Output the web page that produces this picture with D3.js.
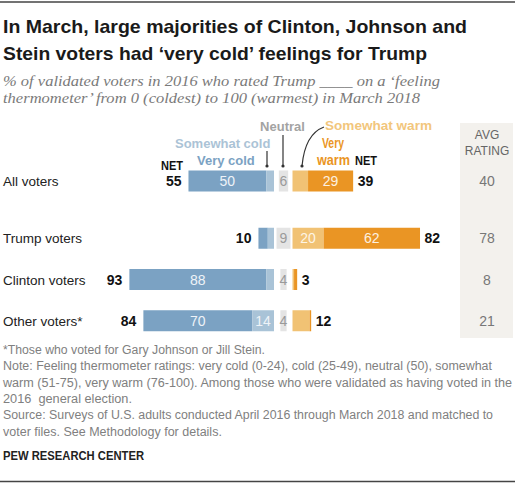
<!DOCTYPE html>
<html><head><meta charset="utf-8">
<script src="https://cdn.jsdelivr.net/npm/d3@7"></script>
<style>body{margin:0;background:#fff}svg{display:block}</style>
</head><body>
<script>
const categories = ["All voters","Trump voters","Clinton voters","Other voters*"];
const veryCold = [50,6,88,70];
const cold = [5,4,5,14];
const neutral = [6,9,4,4];
const somewhatWarm = [10,20,1,11];
const veryWarm = [29,62,2,1];
const netCold = [55,10,93,84];
const netWarm = [39,82,3,12];
const avgRating = [40,78,8,21];

const titleLines = ["In March, large majorities of Clinton, Johnson and","Stein voters had ‘very cold’ feelings for Trump"];
const subtitleLines = ["% of validated voters in 2016 who rated Trump ____ on a ‘feeling","thermometer’ from 0 (coldest) to 100 (warmest) in March 2018"];
const noteLines = ["*Those who voted for Gary Johnson or Jill Stein.",
"Note: Feeling thermometer ratings: very cold (0-24), cold (25-49), neutral (50), somewhat",
"warm (51-75), very warm (76-100). Among those who were validated as having voted in the",
"2016  general election.",
"Source: Surveys of U.S. adults conducted April 2016 through March 2018 and matched to",
"voter files. See Methodology for details."];

const C = {vc:"#7ba2c3", c:"#a9c3d7", n:"#e4e4e4", sw:"#f1c274", vw:"#ea9524"};
const W=520,H=484;
const svg=d3.select("body").append("svg").attr("width",W).attr("height",H);
const sans="'Liberation Sans', Arial, sans-serif";

function fitText(sel,w){sel.each(function(){const n=this.getComputedTextLength();if(Math.abs(n-w)>1){d3.select(this).attr("textLength",w).attr("lengthAdjust","spacingAndGlyphs");}});}

// rules
svg.append("line").attr("x1",0).attr("x2",515).attr("y1",2).attr("y2",2).attr("stroke","#444").attr("stroke-width",1.5);
svg.append("line").attr("x1",0).attr("x2",515).attr("y1",481.5).attr("y2",481.5).attr("stroke","#444").attr("stroke-width",1.5);

// title
const tW=[464,424];
titleLines.forEach((t,i)=>{svg.append("text").attr("x",3).attr("y",33+i*26.5).attr("font-family",sans).attr("font-weight","bold").attr("font-size",19).attr("fill","#1a1a1a").text(t).call(fitText,tW[i]);});
const sW=[437,417];
subtitleLines.forEach((t,i)=>{svg.append("text").attr("x",3).attr("y",86+i*17).attr("font-family","'Liberation Serif', Georgia, serif").attr("font-style","italic").attr("font-size",15).attr("fill","#7a7a7a").text(t).call(fitText,sW[i]);});

// avg column
svg.append("rect").attr("x",460).attr("y",123).attr("width",53).attr("height",215).attr("fill","#f3f1ed");
svg.append("text").attr("x",487).attr("y",139).attr("text-anchor","middle").attr("font-family",sans).attr("font-size",12).attr("fill","#666").text("AVG");
svg.append("text").attr("x",487).attr("y",155).attr("text-anchor","middle").attr("font-family",sans).attr("font-size",12).attr("fill","#666").text("RATING");

// scales
const w=d3.scaleLinear().domain([0,100]).range([0,155.5]);
const coldEnd=274, warmStart=292.5, neutralMid=283.5;
const yP=d3.scalePoint().domain(categories).range([181,181+41.25*3]);
const y=(c,i)=>yP(c)+(i>0?16:0);
const bh=21;

const rows=categories.map((c,i)=>({c,i,cy:y(c,i)}));
const g=svg.append("g");
rows.forEach(r=>{
  const i=r.i, cy=r.cy;
  const segs=[
    {x:coldEnd-w(cold[i])-w(veryCold[i]),v:veryCold[i],col:C.vc,lab:"#eef3f8"},
    {x:coldEnd-w(cold[i]),v:cold[i],col:C.c,lab:"#eef3f8"},
    {x:neutralMid-w(neutral[i])/2,v:neutral[i],col:C.n,lab:"#9a9a9a",always:true},
    {x:warmStart,v:somewhatWarm[i],col:C.sw,lab:"#fdf5e6"},
    {x:warmStart+w(somewhatWarm[i]),v:veryWarm[i],col:C.vw,lab:"#fdf1e0"}
  ];
  segs.forEach(s=>{
    g.append("rect").attr("x",s.x).attr("y",cy-bh/2).attr("width",w(s.v)).attr("height",bh).attr("fill",s.col);
    if(s.always||s.v>=12){
      g.append("text").attr("x",s.x+w(s.v)/2).attr("y",cy+5).attr("text-anchor","middle").attr("font-family",sans).attr("font-size",14).attr("fill",s.lab).text(s.v);
    }
  });
  g.append("text").attr("x",3).attr("y",cy+5).attr("font-family",sans).attr("font-size",13.5).attr("fill","#222").text(r.c);
  g.append("text").attr("x",segs[0].x-7).attr("y",cy+5).attr("text-anchor","end").attr("font-family",sans).attr("font-weight","bold").attr("font-size",14).attr("fill","#111").text(netCold[i]);
  g.append("text").attr("x",warmStart+w(somewhatWarm[i]+veryWarm[i])+4.5).attr("y",cy+5).attr("font-family",sans).attr("font-weight","bold").attr("font-size",14).attr("fill","#111").text(netWarm[i]);
  g.append("text").attr("x",487).attr("y",cy+5).attr("text-anchor","middle").attr("font-family",sans).attr("font-size",14).attr("fill","#777").text(avgRating[i]);
});

// legend labels
const lg=svg.append("g").attr("font-family",sans).attr("font-weight","bold").attr("font-size",13);
lg.append("text").attr("x",neutralMid-1).attr("y",131).attr("text-anchor","middle").attr("fill","#a3a3a3").text("Neutral").call(fitText,45);
lg.append("text").attr("x",325).attr("y",130).attr("fill","#f2c67c").text("Somewhat warm").call(fitText,107);
lg.append("text").attr("x",175).attr("y",148).attr("fill","#abc3d6").text("Somewhat cold").call(fitText,96);
lg.append("text").attr("x",197).attr("y",165).attr("fill","#7ba2c3").text("Very cold").call(fitText,58);
lg.append("text").attr("x",322).attr("y",148).attr("font-size",14).attr("fill","#ea9524").text("Very").call(fitText,22);
lg.append("text").attr("x",317).attr("y",165).attr("font-size",14).attr("fill","#ea9524").text("warm").call(fitText,33);
lg.append("text").attr("x",161).attr("y",170).attr("fill","#111").attr("font-size",12).text("NET").call(fitText,22);
lg.append("text").attr("x",355).attr("y",165).attr("fill","#111").attr("font-size",12).text("NET").call(fitText,22);

// pointers
const pg=svg.append("g").attr("stroke","#333").attr("stroke-width",1.2).attr("fill","none");
pg.append("line").attr("x1",coldEnd-7).attr("x2",coldEnd-7).attr("y1",151).attr("y2",166);
pg.append("line").attr("x1",neutralMid-0.5).attr("x2",neutralMid-0.5).attr("y1",135).attr("y2",166);
pg.append("path").attr("d","M324,127 Q305,134 302,166");
[[coldEnd-7,166],[neutralMid-0.5,166],[302,166]].forEach(p=>svg.append("circle").attr("cx",p[0]).attr("cy",p[1]).attr("r",1.6).attr("fill","#333"));

// notes
const nW=[262,489,509,129,490,219];
noteLines.forEach((t,i)=>{svg.append("text").attr("x",3).attr("y",354+i*16.3).attr("font-family",sans).attr("font-size",12.5).attr("fill","#808080").attr("xml:space","preserve").style("white-space","pre").text(t).call(fitText,nW[i]);});
svg.append("text").attr("x",3).attr("y",460).attr("font-family",sans).attr("font-weight","bold").attr("font-size",12).attr("fill","#222").text("PEW RESEARCH CENTER").call(fitText,141);
</script>
</body></html>
